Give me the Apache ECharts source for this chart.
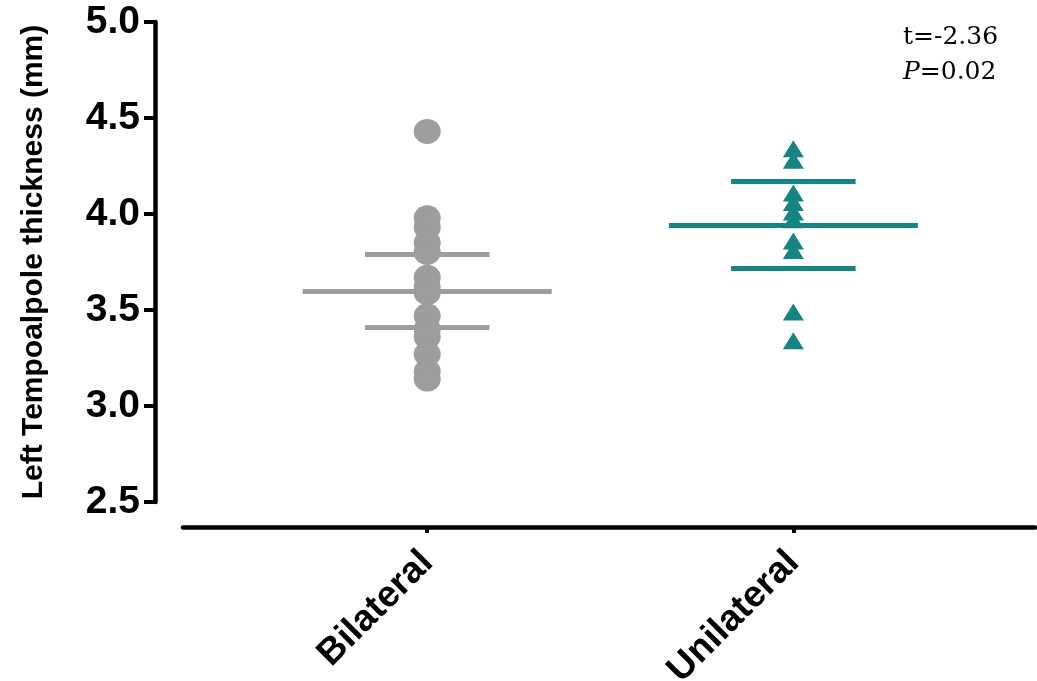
<!DOCTYPE html>
<html>
<head>
<meta charset="utf-8">
<script src="https://cdn.jsdelivr.net/npm/echarts@6/dist/echarts.min.js"></script>
<style>
html,body{margin:0;padding:0;background:#fff;}
#chart{width:1037px;height:681px;}
</style>
</head>
<body>
<div id="chart"></div>
<script>
// ---- data ----
const categories = ['Bilateral', 'Unilateral'];
const bilateralValues = [4.43, 3.98, 3.93, 3.85, 3.80, 3.67, 3.62, 3.59, 3.47, 3.40, 3.36, 3.27, 3.18, 3.14];
const unilateralValues = [4.34, 4.28, 4.11, 4.06, 4.01, 3.97, 3.86, 3.81, 3.49, 3.34];
const groupMeans = [3.60, 3.94];
const groupUpper = [3.79, 4.17];
const groupLower = [3.41, 3.72];
const yTickValues = [2.5, 3.0, 3.5, 4.0, 4.5, 5.0];
const statText = ['t=-2.36', 'P', '=0.02'];

// ---- styles ----
const grayColor = '#9d9d9d';
const tealColor = '#168482';
const meanHalf = 0.34;
const errHalf = 0.17;

function pts(vals, pos) { return vals.map(v => [pos, v]); }
function hLine(pos, y, half) {
  return [{ coord: [pos - half, y] }, { coord: [pos + half, y] }];
}
function summaryLines(i) {
  const p = i + 1;
  return [
    hLine(p, groupMeans[i], meanHalf),
    hLine(p, groupUpper[i], errHalf),
    hLine(p, groupLower[i], errHalf)
  ];
}

const chart = echarts.init(document.getElementById('chart'), null, { renderer: 'canvas' });
const option = {
  animation: false,
  backgroundColor: '#ffffff',
  grid: { left: 183, right: 2, top: 22, bottom: 179, containLabel: false, outerBoundsMode: 'none' },
  xAxis: {
    type: 'value',
    min: 0.333,
    max: 2.66,
    offset: 25,
    splitLine: { show: false },
    axisLine: { show: true, onZero: false, lineStyle: { color: '#000', width: 4.5 } },
    axisTick: { show: true, customValues: [1, 2], length: 6, lineStyle: { color: '#000', width: 4 } },
    axisLabel: {
      customValues: [1, 2],
      rotate: 45,
      margin: 30,
      formatter: v => categories[Math.round(v) - 1] || '',
      color: '#000',
      fontFamily: 'Liberation Sans, Arial, sans-serif',
      fontWeight: 'bold',
      fontSize: 37
    }
  },
  yAxis: {
    type: 'value',
    min: 2.5,
    max: 5.0,
    interval: 0.5,
    offset: 28,
    name: 'Left Tempoalpole thickness (mm)',
    nameLocation: 'middle',
    nameRotate: 90,
    nameGap: 106,
    nameTextStyle: {
      color: '#000',
      fontFamily: 'Liberation Sans, Arial, sans-serif',
      fontWeight: 'bold',
      fontSize: 30
    },
    splitLine: { show: false },
    axisLine: { show: true, lineStyle: { color: '#000', width: 4.5 } },
    axisTick: { show: true, length: 11, lineStyle: { color: '#000', width: 4 } },
    axisLabel: {
      margin: 15,
      color: '#000',
      fontFamily: 'Liberation Sans, Arial, sans-serif',
      fontWeight: 'bold',
      fontSize: 39,
      formatter: v => v.toFixed(1)
    }
  },
  graphic: [{
    type: 'text',
    left: 903,
    top: 20,
    style: {
      text: statText[0] + '\n{i|' + statText[1] + '}' + statText[2],
      fontFamily: 'DejaVu Serif, serif',
      fontSize: 25,
      lineHeight: 35,
      fill: '#000',
      rich: {
        i: { fontStyle: 'italic', fontFamily: 'DejaVu Serif, serif', fontSize: 25, lineHeight: 35 }
      }
    }
  }],
  series: [
    {
      name: categories[0],
      type: 'scatter',
      symbol: 'circle',
      symbolSize: [27, 25],
      itemStyle: { color: grayColor, opacity: 1 },
      data: pts(bilateralValues, 1),
      markLine: {
        silent: true,
        symbol: ['none', 'none'],
        label: { show: false },
        lineStyle: { color: grayColor, width: 5, type: 'solid' },
        data: summaryLines(0)
      }
    },
    {
      name: categories[1],
      type: 'scatter',
      symbol: 'triangle',
      symbolSize: [21, 17],
      itemStyle: { color: tealColor, opacity: 1 },
      data: pts(unilateralValues, 2),
      markLine: {
        silent: true,
        symbol: ['none', 'none'],
        label: { show: false },
        lineStyle: { color: tealColor, width: 5, type: 'solid' },
        data: summaryLines(1)
      }
    }
  ]
};
chart.setOption(option);
</script>
</body>
</html>
